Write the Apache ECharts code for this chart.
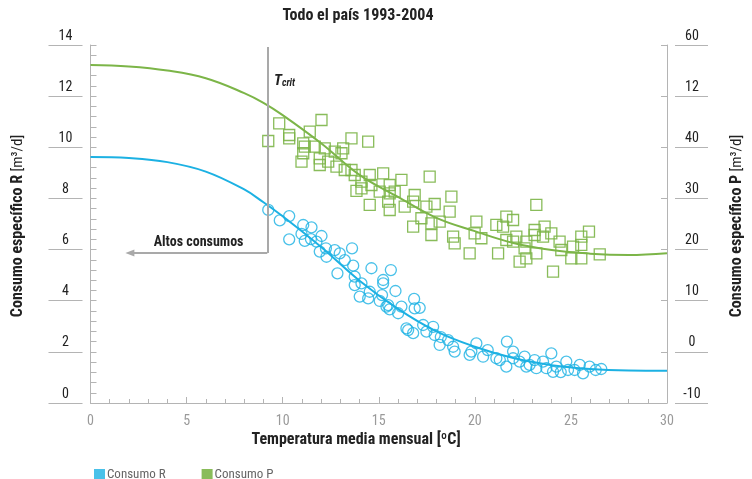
<!DOCTYPE html>
<html>
<head>
<meta charset="utf-8">
<script src="https://cdn.jsdelivr.net/npm/echarts@6/dist/echarts.min.js"></script>
<style>html,body{margin:0;padding:0;background:#fff}#c{width:752px;height:479px}</style>
</head>
<body>
<div id="c"></div>
<script>
// ---- data ----
const rTemp = [9.25,9.85,10.34,10.34,11.07,11.50,10.98,11.15,11.47,12.02,11.76,11.93,12.25,12.28,12.71,12.97,13.23,13.61,12.85,13.67,13.75,13.75,14.10,14.62,15.63,15.23,15.23,14.01,14.53,14.45,15.05,15.17,15.87,15.49,15.57,16.18,16.84,16.87,16.01,16.44,15.40,16.53,16.79,17.13,17.31,17.83,17.48,17.91,18.17,18.61,18.87,18.95,20.08,19.82,19.73,20.43,21.12,21.30,21.67,21.64,21.99,21.99,22.33,22.59,22.68,23.11,23.20,23.55,23.98,23.72,24.07,24.24,24.76,24.85,25.19,25.46,25.63,25.97,26.58,18.23,20.67,22.85,24.47,26.29];
const rCons = [7.55,7.14,7.31,6.40,6.96,6.87,6.61,6.34,6.41,6.53,6.31,5.92,6.05,5.72,5.98,5.85,5.59,6.05,5.07,5.37,4.94,4.61,4.68,5.27,5.20,4.81,4.68,4.16,4.35,4.09,3.99,4.22,4.38,3.83,3.66,3.77,4.07,3.70,3.51,2.92,3.77,2.85,2.73,3.72,3.05,2.98,2.79,2.66,2.27,2.46,2.20,2.01,2.33,2.01,1.88,1.81,1.75,1.68,2.40,1.42,2.01,1.75,1.62,1.81,1.42,1.68,1.36,1.62,1.94,1.36,1.22,1.42,1.62,1.29,1.29,1.49,1.16,1.42,1.33,2.58,2.07,1.49,1.21,1.29];
const pTemp = [9.25,9.82,10.34,10.34,12.02,11.41,11.07,11.15,11.07,10.98,11.67,12.19,11.93,11.93,12.37,12.71,13.15,13.06,13.58,14.45,12.80,13.23,13.58,13.75,14.10,14.53,15.23,13.84,14.10,14.62,15.05,15.57,15.57,16.18,15.83,15.49,14.53,15.57,16.35,16.87,16.79,17.65,17.48,16.79,17.22,17.74,17.91,18.78,18.69,18.17,17.74,18.87,18.95,19.99,20.08,20.34,19.73,21.12,21.64,21.99,21.47,21.64,21.99,22.16,21.21,22.33,22.68,22.59,23.20,23.11,23.20,23.63,23.55,23.98,24.07,24.41,24.50,25.11,25.54,25.54,25.02,25.54,25.94,26.50,22.68,23.11];
const pCons = [41.23,44.69,42.40,41.76,45.34,43.05,40.78,40.12,38.83,37.18,40.12,39.80,37.85,36.54,37.18,39.14,39.80,38.83,41.76,41.10,36.21,35.56,35.56,34.58,33.27,34.58,34.90,31.46,31.98,32.63,31.32,32.63,31.00,33.61,31.32,29.36,28.72,27.74,28.39,30.67,29.36,34.25,28.39,24.47,26.12,25.14,28.91,30.34,27.41,25.45,22.85,22.52,21.23,23.18,25.45,22.21,19.27,24.81,26.43,25.78,24.47,21.87,21.54,22.52,19.27,17.63,18.29,20.25,28.72,22.85,19.27,24.47,22.52,23.18,15.67,21.54,19.92,20.56,22.52,20.90,18.29,18.29,23.50,19.08,21.54,23.83];
const rFitTemp = [0,2,4,6,8,9,10,12,14,16,18,20,22,24,26,28,30];
const rFitCons = [9.62,9.58,9.42,9.05,8.35,7.85,7.30,6.10,4.78,3.68,2.80,2.20,1.76,1.48,1.33,1.27,1.26];
const pFitTemp = [0,2,4,6,8,9,10,12,14,16,18,20,22,24,26,28,30];
const pFitCons = [56.1,55.8,55.0,53.5,50.6,48.7,46.3,40.8,34.6,30.3,26.2,23.6,21.3,19.9,19.2,18.95,19.3];
const xTickLabels = ['0','5','10','15','20','25','30'];
const leftTickLabels = ['0','2','4','6','8','10','12','14'];
const rightTickLabels = ['-10','0','10','20','30','40','12','60'];
// annotation (data coordinates)
const tCrit = 9.2, tCritTop = 13.92, highLevel = 5.87, arrowEnd = 2.05;
const tCritLabelPos = [9.55, 12.65];

const BLUE = '#1cb1e3', GREEN = '#7cb548', AX = '#b4b4b4', DARK = '#222';
const FONT = "'Liberation Sans Narrow','Roboto Condensed','Roboto',sans-serif";

const chart = echarts.init(document.getElementById('c'), null, {renderer:'canvas'});
const pairs = (a,b)=>a.map((v,i)=>[v,b[i]]);

const option = {
  animation:false,
  textStyle:{fontFamily:FONT},
  grid:{left:90.5, right:85, top:45, bottom:76},
  legend:{
    left:89, top:463, itemWidth:11, itemHeight:11, itemGap:36,
    textStyle:{color:'#666', fontSize:13, fontFamily:FONT, padding:[0,0,0,-3]},
    data:[
      {name:'Consumo R', icon:'rect', itemStyle:{color:BLUE, borderWidth:0}},
      {name:'Consumo P', icon:'rect', itemStyle:{color:GREEN, borderWidth:0}}
    ]
  },
  xAxis:{
    type:'value', min:0, max:30, interval:5,
    axisLine:{show:true, lineStyle:{color:AX, width:1}},
    axisTick:{show:true, inside:true, length:6, lineStyle:{color:AX}},
    minorTick:{show:true, splitNumber:5, length:4, lineStyle:{color:AX}},
    splitLine:{show:false},
    axisLabel:{color:'#9a9a9a', fontSize:14, margin:11, formatter:(v)=>xTickLabels[Math.round(v/5)]}
  },
  yAxis:[
    {type:'value', position:'left', min:0, max:14, interval:2,
      axisLine:{show:true, lineStyle:{color:AX}},
      axisTick:{show:true, inside:true, length:6, lineStyle:{color:AX}},
      minorTick:{show:true, splitNumber:5, length:6, lineStyle:{color:AX}},
      splitLine:{show:false}, axisLabel:{show:false}},
    {type:'value', position:'right', min:-10, max:60, interval:10,
      axisLine:{show:true, lineStyle:{color:AX}},
      axisTick:{show:true, inside:true, length:6, lineStyle:{color:AX}},
      splitLine:{show:false}, axisLabel:{show:false}},
    {type:'value', position:'left', offset:8, min:0, max:14, interval:2,
      axisLine:{show:false},
      axisTick:{show:true, inside:false, length:34, lineStyle:{color:AX, width:1.2}},
      splitLine:{show:false},
      axisLabel:{show:true, showMinLabel:true, showMaxLabel:true, align:'center', verticalAlign:'bottom', margin:17,
        color:DARK, fontSize:14, padding:[0,0,2,0], formatter:(v)=>leftTickLabels[Math.round(v/2)]}},
    {type:'value', position:'right', offset:8, min:-10, max:60, interval:10,
      axisLine:{show:false},
      axisTick:{show:true, inside:false, length:33, lineStyle:{color:AX, width:1.2}},
      splitLine:{show:false},
      axisLabel:{show:true, showMinLabel:true, showMaxLabel:true, align:'center', verticalAlign:'bottom', margin:17,
        color:DARK, fontSize:14, padding:[0,0,2,0], formatter:(v)=>rightTickLabels[Math.round((v+10)/10)]}}
  ],
  series:[
    {name:'Consumo R', type:'scatter', yAxisIndex:0, symbol:'circle', symbolSize:11,
      itemStyle:{color:'rgba(0,0,0,0)', borderColor:BLUE, borderWidth:1.3},
      data:pairs(rTemp,rCons), z:3},
    {name:'Consumo P', type:'scatter', yAxisIndex:1, symbol:'rect', symbolSize:11,
      itemStyle:{color:'rgba(0,0,0,0)', borderColor:GREEN, borderWidth:1.3, opacity:0.9},
      data:pairs(pTemp,pCons), z:3},
    {name:'Consumo R', type:'line', yAxisIndex:0, smooth:0.4, showSymbol:false, symbol:'none',
      lineStyle:{color:BLUE, width:2}, itemStyle:{color:BLUE},
      data:pairs(rFitTemp,rFitCons), z:4,
      markLine:{silent:true, symbol:['none','none'], animation:false,
        lineStyle:{color:'#a9a9a9', width:2, type:'solid'},
        data:[
          [{coord:[tCrit,tCritTop], label:{show:false}}, {coord:[tCrit,highLevel]}],
          [{coord:[tCrit,highLevel], label:{show:true, formatter:'Altos consumos', position:'insideMiddleTop',
              color:DARK, fontSize:14, fontWeight:'bold', fontFamily:FONT, distance:3}},
           {coord:[arrowEnd,highLevel], symbol:'triangle', symbolSize:[7,9], symbolRotate:90}]
        ]},
      markPoint:{silent:true, symbol:'circle', symbolSize:0,
        data:[{coord:tCritLabelPos}],
        label:{show:true, position:'right', distance:0, formatter:'{t|T}{s|crit}',
          rich:{t:{fontSize:15, fontStyle:'italic', fontWeight:'bold', color:DARK, fontFamily:FONT, lineHeight:18, verticalAlign:'bottom'},
                s:{fontSize:10, fontStyle:'italic', fontWeight:'bold', color:DARK, fontFamily:FONT, lineHeight:14, verticalAlign:'bottom', padding:[6,0,0,0]}}}}
    },
    {name:'Consumo P', type:'line', yAxisIndex:1, smooth:0.4, showSymbol:false, symbol:'none',
      lineStyle:{color:GREEN, width:2}, itemStyle:{color:GREEN},
      data:pairs(pFitTemp,pFitCons), z:4}
  ],
  graphic:[
    {type:'text', x:358, y:16, style:{text:'Todo el país 1993-2004', fill:DARK, font:"bold 16px "+FONT, align:'center', verticalAlign:'middle'}},
    {type:'text', x:356, y:440, style:{text:'Temperatura media mensual [ºC]', fill:DARK, font:"bold 16px "+FONT, align:'center', verticalAlign:'middle'}},
    {type:'text', x:18, y:226, rotation:Math.PI/2, style:{text:'{b|Consumo específico R} {n|[m³/d]}', align:'center', verticalAlign:'middle',
      rich:{b:{font:"bold 16px "+FONT, fill:DARK}, n:{font:"15px "+FONT, fill:DARK}}}},
    {type:'text', x:737, y:226, rotation:Math.PI/2, style:{text:'{b|Consumo específico P} {n|[m³/d]}', align:'center', verticalAlign:'middle',
      rich:{b:{font:"bold 16px "+FONT, fill:DARK}, n:{font:"15px "+FONT, fill:DARK}}}}
  ]
};
chart.setOption(option);
</script>
</body>
</html>
